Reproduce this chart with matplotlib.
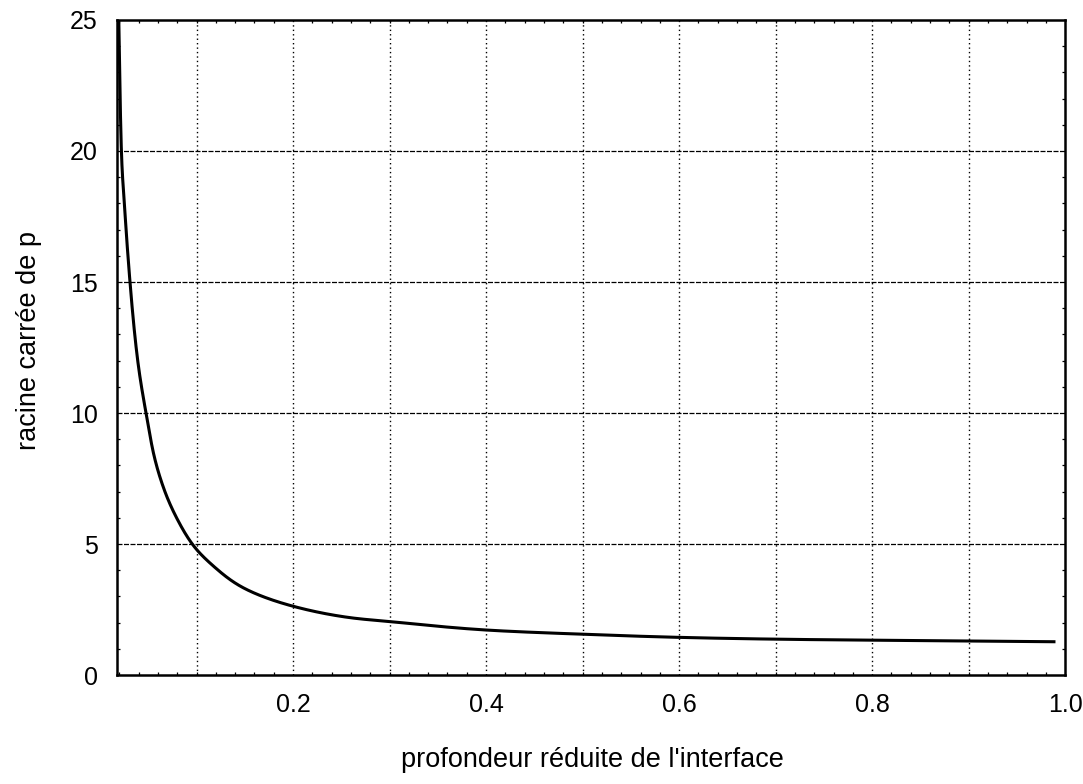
import numpy as np
import matplotlib
matplotlib.use("Agg")
import matplotlib.pyplot as plt
from matplotlib.ticker import MultipleLocator

plt.rcParams['font.family'] = ['Liberation Sans', 'DejaVu Sans']

# profondeur reduite / racine carree de p
prof = [0.0194, 0.0221, 0.0257, 0.031, 0.039, 0.0476, 0.0562, 0.0666, 0.0804,
        0.0976, 0.1183, 0.1494, 0.1995, 0.255, 0.3116, 0.399, 0.498, 0.597,
        0.697, 0.80, 0.90, 0.99]
racine_p = [25.0, 20.0, 17.7, 15.0, 12.0, 10.0, 8.33, 7.06, 5.92,
            4.90, 4.13, 3.31, 2.63, 2.21, 2.00, 1.72, 1.56, 1.44,
            1.37, 1.33, 1.30, 1.27]

xticks = [0.2, 0.4, 0.6, 0.8, 1.0]
xtick_labels = ['0.2', '0.4', '0.6', '0.8', '1.0']
yticks = [0, 5, 10, 15, 20, 25]


def catmull_rom(px, py, n=40):
    # spline de Catmull-Rom passant par tous les points
    px = np.concatenate([[2 * px[0] - px[1]], px, [2 * px[-1] - px[-2]]])
    py = np.concatenate([[2 * py[0] - py[1]], py, [2 * py[-1] - py[-2]]])
    t = np.linspace(0, 1, n, endpoint=False)
    ox, oy = [], []
    for i in range(1, len(px) - 2):
        for arr, out in ((px, ox), (py, oy)):
            p0, p1, p2, p3 = arr[i - 1], arr[i], arr[i + 1], arr[i + 2]
            out.extend(0.5 * (2 * p1 + (-p0 + p2) * t
                              + (2 * p0 - 5 * p1 + 4 * p2 - p3) * t ** 2
                              + (-p0 + 3 * p1 - 3 * p2 + p3) * t ** 3))
    ox.append(px[-2])
    oy.append(py[-2])
    return np.array(ox), np.array(oy)


fig = plt.figure(figsize=(10.83, 7.84), dpi=100)
ax = fig.add_axes([0.108, 0.139, 0.8755, 0.8355])

lx, ly = catmull_rom(np.log(prof), np.log(racine_p))
ax.plot(np.exp(lx), np.exp(ly), color='black', lw=2.2, solid_capstyle='butt')

ax.set_xlim(0.0175, 1.0)
ax.set_ylim(0, 25)

ax.set_xticks(xticks)
ax.set_xticklabels(xtick_labels)
ax.set_yticks(yticks)

# quadrillage : pointille vertical, tirets fins horizontal
for gx in np.arange(0.1, 1.0, 0.1):
    ax.axvline(gx, color='black', lw=1.0, ls=(0, (1, 2.2)), zorder=1)
for gy in [5, 10, 15, 20]:
    ax.axhline(gy, color='black', lw=0.9, ls=(0, (4, 1.2)), zorder=1)

ax.xaxis.set_minor_locator(MultipleLocator(0.02))
ax.yaxis.set_minor_locator(MultipleLocator(1))
ax.tick_params(which='major', length=0, labelsize=18)
ax.tick_params(axis='x', which='major', pad=13)
ax.tick_params(axis='y', which='major', pad=14)
ax.tick_params(which='minor', direction='in', length=2.5, width=0.9,
               top=True, right=True)

for s in ax.spines.values():
    s.set_linewidth(1.8)

fig.text(0.547, 0.031, "profondeur réduite de l'interface", ha='center',
         va='center', fontsize=19.5)
fig.text(0.027, 0.566, "racine carrée de p", ha='center', va='center',
         rotation=90, fontsize=19.5)

fig.savefig('out.png', dpi=100)
